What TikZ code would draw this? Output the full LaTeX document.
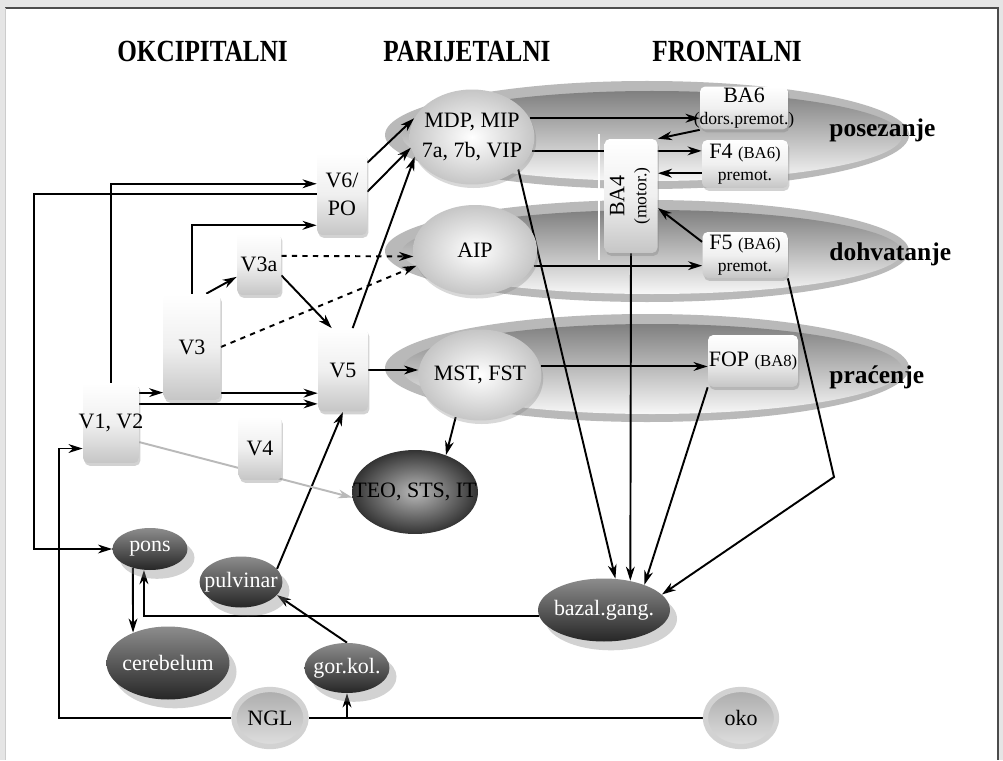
\documentclass[tikz,border=0pt]{standalone}
\usepackage{fontspec}
\setmainfont{Liberation Serif}
\usepackage{graphicx}
\usetikzlibrary{shapes.geometric,shadows,arrows.meta}
\pgfdeclarelayer{bg}
\pgfdeclarelayer{edges}
\pgfsetlayers{bg,edges,main}
\newcommand{\smtxt}[1]{{\fontsize{10}{11}\selectfont #1}}
\newcommand{\tntxt}[1]{{\fontsize{9.5}{11}\selectfont #1}}
\tikzset{
  headlab/.style={font=\rmfamily\fontsize{17.5}{19}\selectfont\bfseries,inner sep=0pt,anchor=base west},
  rowlab/.style={font=\rmfamily\fontsize{14.5}{16}\selectfont\bfseries,inner sep=0pt,anchor=base west},
  vbox/.style={rectangle,rounded corners=3pt,inner sep=0pt,align=center,
    top color=white,bottom color=gray!45,middle color=gray!12,
    font=\rmfamily\fontsize{12.5}{16}\selectfont,
    drop shadow={shadow xshift=.8pt,shadow yshift=-1.6pt,opacity=.35}},
  frbox/.style={vbox,font=\rmfamily\fontsize{12.5}{12.5}\selectfont},
  lell/.style={ellipse,inner xsep=-.4cm,inner ysep=0pt,align=center,
    inner color=white,outer color=gray!45,
    font=\rmfamily\fontsize{12.5}{17}\selectfont,
    drop shadow={shadow xshift=1pt,shadow yshift=-2pt,opacity=.3}},
  dell/.style={ellipse,inner xsep=-.4cm,inner ysep=0pt,text=white,
    top color=black!45,bottom color=black!85,
    font=\rmfamily\fontsize{12.5}{15}\selectfont,
    drop shadow={shadow xshift=4pt,shadow yshift=-5pt,opacity=.35}},
  teoell/.style={ellipse,inner xsep=-.4cm,inner ysep=0pt,
    inner color=gray!55,outer color=black!80,
    font=\rmfamily\fontsize{12.5}{15}\selectfont},
  ringell/.style={ellipse,inner xsep=-.4cm,inner ysep=0pt,draw=gray!35,line width=3pt,
    top color=gray!65,bottom color=gray!25,
    font=\rmfamily\fontsize{12.5}{15}\selectfont},
}
\begin{document}
\begin{tikzpicture}[x=0.02cm,y=-0.02cm,line width=1.1pt,>={Stealth[length=8pt,width=5pt,inset=2.5pt]}]
\useasboundingbox (0,0) rectangle (1003,760);

\begin{pgfonlayer}{bg}
\fill[gray!20] (0,0) rectangle (1003,760);
\fill[white] (5,8) rectangle (998,760);
\draw[gray!60!black,line width=.8pt] (5,8) -- (998,8) -- (998,760);
\draw[gray!40,line width=.5pt] (5,8) -- (5,760);
\foreach \cy/\ry in {135/54, 251/51, 368/54} {
  \fill[gray!55] (647,\cy) ellipse [x radius=262, y radius=\ry];
  \shade[top color=gray, bottom color=gray!6] (652,\cy+1) ellipse [x radius=250, y radius=\ry-9];
}
\end{pgfonlayer}

\node[headlab] (okc) at (117,62) {\scalebox{.82}[1]{OKCIPITALNI}};
\node[headlab] (par) at (383,62) {\scalebox{.82}[1]{PARIJETALNI}};
\node[headlab] (fro) at (652,62) {\scalebox{.82}[1]{FRONTALNI}};
\node[rowlab] (pos) at (829,137) {posezanje};
\node[rowlab] (doh) at (829,260) {dohvatanje};
\node[rowlab] (pra) at (829,383) {praćenje};

\node[vbox,minimum width=1cm,minimum height=1.64cm] (V6PO) at (342,194) {V6/\\PO};
\node[vbox,minimum width=.88cm,minimum height=1.24cm] (V3a) at (259,264) {V3a};
\node[vbox,minimum width=1.14cm,minimum height=2.12cm] (V3) at (192,347) {V3};
\node[vbox,minimum width=1cm,minimum height=1.66cm] (V5) at (343,370) {V5};
\node[vbox,minimum width=1.12cm,minimum height=1.6cm] (V1V2) at (111,423) {\makebox[0pt]{V1, V2}};
\node[vbox,minimum width=.86cm,minimum height=1.28cm] (V4) at (260,448) {V4};

\node[frbox,minimum width=1.76cm,minimum height=.86cm] (BA6) at (744,108) {BA6\\\makebox[0pt]{\smtxt{(dors.premot.)}}};
\node[frbox,minimum width=1.72cm,minimum height=.96cm] (F4) at (745,164) {F4 \tntxt{(BA6)}\\\smtxt{premot.}};
\node[frbox,minimum width=1.06cm,minimum height=2.28cm] (BA4) at (631,196) {\rotatebox{90}{\begin{tabular}{@{}c@{}}BA4\\\smtxt{(motor.)}\end{tabular}}};
\node[frbox,minimum width=1.7cm,minimum height=.92cm] (F5) at (745,255) {F5 \tntxt{(BA6)}\\\smtxt{premot.}};
\node[frbox,minimum width=1.8cm,minimum height=1.04cm] (FOP) at (753,361) {FOP \tntxt{(BA8)}};

\node[lell,minimum width=2.5cm,minimum height=1.9cm] (MDP) at (472,137) {MDP, MIP\\7a, 7b, VIP};
\node[lell,minimum width=2.48cm,minimum height=1.8cm] (AIP) at (475,250) {AIP};
\node[lell,minimum width=2.46cm,minimum height=1.82cm] (MST) at (480,375) {MST, FST};
\node[teoell,minimum width=2.52cm,minimum height=1.68cm] (TEO) at (415,492) {TEO, STS, IT};

\node[dell,minimum width=1.5cm,minimum height=.84cm] (pons) at (150,549) {pons};
\node[dell,minimum width=1.66cm,minimum height=1.02cm] (pulvinar) at (241,582) {pulvinar};
\node[dell,minimum width=2.46cm,minimum height=1.46cm] (cerebelum) at (168,663) {cerebelum};
\node[dell,minimum width=1.7cm,minimum height=1cm] (gorkol) at (347,668) {gor.kol.};
\node[dell,minimum width=2.64cm,minimum height=1.26cm] (bazal) at (604,610) {bazal.gang.};
\node[ringell,minimum width=1.44cm,minimum height=1.14cm] (NGL) at (270,718) {NGL};
\node[ringell,minimum width=1.42cm,minimum height=1.14cm] (oko) at (741,718) {oko};

\coordinate (ponsturn) at (34,549);
\coordinate (nglturn) at (59,718);
\coordinate (f5turn) at (834,477);

\begin{pgfonlayer}{edges}
\begin{scope}[line width=1.1pt]
\draw[white,line width=.8pt] (599,134) -- (599,260);
\draw[->] (V1V2.north) |- (V6PO.158);
\draw[->] (V6PO.west) -| (ponsturn) -- (pons.west);
\draw[->] (V3.north) |- (V6PO.231);
\draw[->] (V3.75) -- (V3a.210);
\draw[->] (V3a.-27) -- (V5.105);
\draw[->,dashed] (V3a.20) -- (AIP.186);
\draw[->,dashed] (V3.east) -- (AIP.195);
\draw[->] (V1V2.47) -- (V1V2.47 -| V3.west);
\draw[->] (V3.-58) -- (V3.-58 -| V5.west);
\draw[->] (V1V2.34) -- (V1V2.34 -| V5.west);
\draw[->] (V5.77) -- (MDP.199);
\draw[->] (V6PO.51) -- (MDP.162);
\draw[->] (V6PO.5) -- (MDP.190);
\draw[->] (pulvinar.20) -- (V5.south);
\draw[->] (V5.east) -- (V5.east -| MST.west);
\draw[->] (MDP.18) -- (MDP.18 -| BA6.west);
\draw[->] (MDP.-13) -- (MDP.-13 -| F4.west);
\draw[->] (BA6.south west) -- (BA4.north east);
\draw[->] (F4.192) -- (F4.192 -| BA4.east);
\draw[->] (F5.163) -- (BA4.-24);
\draw[->] (AIP.-15) -- (AIP.-15 -| F5.west);
\draw[->] (MST.8) -- (MST.8 -| FOP.west);
\draw[->] (MDP.-35) -- (bazal.70);
\draw[->] (BA4.south) -- (bazal.48);
\draw[->] (FOP.south west) -- (bazal.32);
\draw[->] (F5.south east) -- (f5turn) -- (bazal.15);
\draw[->] (bazal.185) -| (pons.254);
\draw[->] (pons.228) -- (cerebelum.139);
\draw[->] (gorkol.north) -- (pulvinar.-20);
\draw[->] (NGL.west) -- (nglturn) |- (V1V2.222);
\draw (oko.west) -- (NGL.east);
\draw[->] (gorkol.south |- NGL.east) -- (gorkol.south);
\draw[->,gray!55] (V1V2.-34) -- (TEO.185);
\draw[->] (MST.240) -- (TEO.50);
\end{scope}
\end{pgfonlayer}
\end{tikzpicture}
\end{document}
